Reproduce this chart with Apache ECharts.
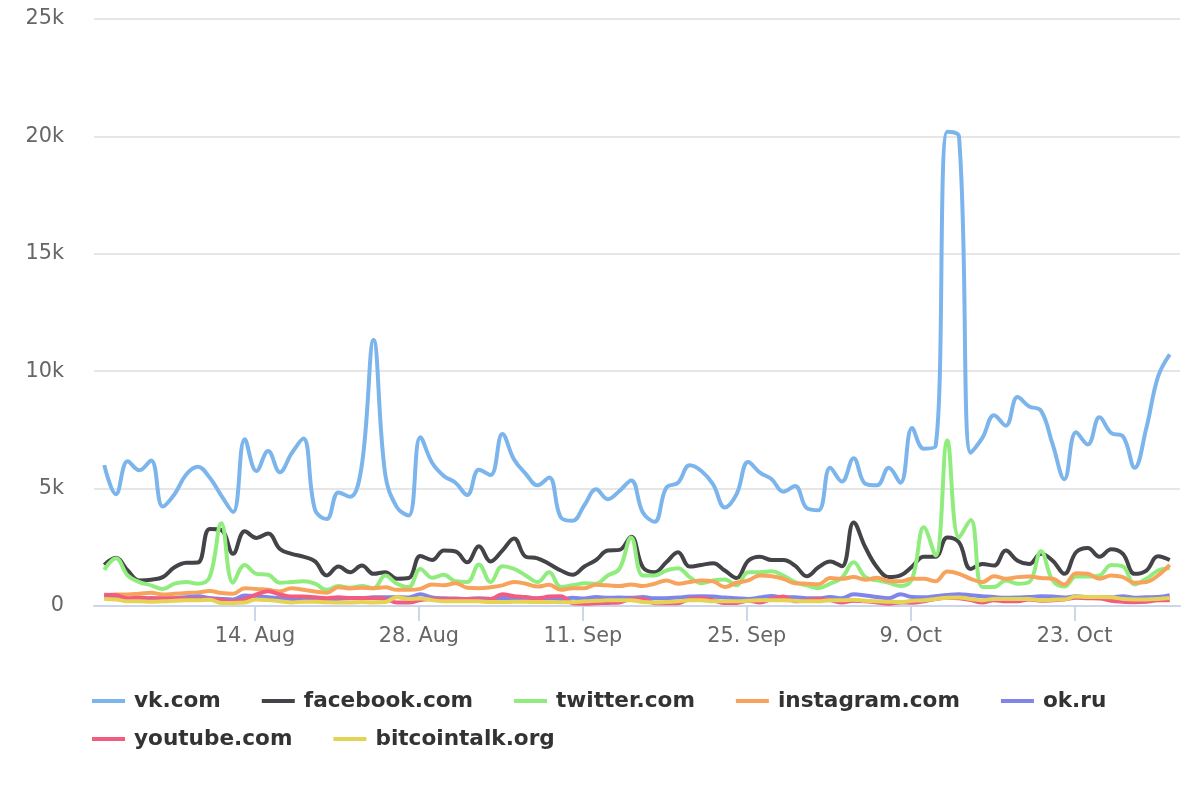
<!DOCTYPE html>
<html>
    <head>
        <meta charset="utf-8">
        <title>Traffic by site</title>
        <script src="https://cdn.jsdelivr.net/npm/echarts@6/dist/echarts.min.js"></script>
        <style>
            html, body { margin: 0; padding: 0; background: #fff; }
        </style>
    </head>
    <body>
        <div id="main" style="width: 1200px;height: 800px;"></div>

        <script>
            const vk = [6000,4760,6170,5780,6200,4240,4760,5600,5930,5470,4700,4000,7100,5750,6600,5700,6500,7130,4100,3700,4830,4650,6000,11330,5600,4200,3850,7190,6100,5540,5250,4730,5800,5580,7330,6240,5630,5140,5470,3770,3630,4290,4970,4550,4900,5350,3980,3590,5040,5250,5990,5750,5180,4200,4760,6130,5680,5400,4870,5110,4170,4080,5890,5300,6290,5210,5140,5890,5250,7580,6700,6800,20200,20000,6530,7160,8120,7680,8900,8500,8320,6880,5400,7400,6880,8040,7370,7230,5890,7580,9770,10720];
            const facebook = [1750,2050,1510,1090,1120,1230,1650,1840,1850,3280,3230,2220,3180,2900,3090,2430,2220,2100,1900,1300,1680,1440,1720,1370,1440,1160,1190,2130,1960,2360,2320,1860,2540,1900,2360,2880,2100,2030,1790,1510,1330,1680,1960,2360,2390,2950,1650,1440,1860,2290,1680,1750,1820,1510,1190,1930,2100,1960,1960,1720,1270,1650,1900,1690,3560,2500,1650,1230,1300,1680,2100,2100,2920,2710,1580,1790,1720,2360,1930,1790,2220,1930,1370,2290,2470,2100,2420,2220,1370,1510,2120,1960];
            const twitter = [1540,2030,1300,1020,880,720,950,1020,950,1230,3520,990,1750,1370,1330,990,1020,1050,950,690,850,780,850,760,1300,950,810,1580,1200,1330,1050,1020,1770,1020,1690,1580,1300,1020,1440,810,880,970,950,1300,1580,2920,1300,1300,1510,1610,1230,970,1090,1130,880,1440,1440,1480,1300,1020,880,760,950,1200,1860,1230,1090,990,850,1160,3350,2150,7050,2920,3660,810,810,1090,950,1020,2330,1090,830,1260,1260,1300,1750,1690,920,1160,1510,1620];
            const instagram = [450,490,490,520,560,490,520,550,580,640,550,520,760,720,690,620,760,690,620,560,800,750,780,760,800,690,690,730,920,880,970,780,760,800,880,1020,950,830,900,690,760,760,900,880,850,920,850,950,1090,950,1020,1090,1050,810,990,1090,1300,1270,1160,970,950,930,1190,1160,1230,1120,1200,1060,1050,1160,1160,1050,1470,1370,1160,1020,1270,1160,1230,1260,1190,1160,920,1400,1370,1160,1300,1230,990,1020,1300,1750];
            const okru = [380,360,280,250,330,300,330,370,420,340,300,280,450,420,370,330,300,320,280,270,300,330,330,370,370,380,360,500,360,330,320,300,330,300,340,330,280,320,330,300,350,320,380,350,360,350,380,330,330,360,400,410,400,360,330,300,360,430,370,370,330,330,380,330,500,450,380,330,500,380,370,420,470,500,460,420,380,350,360,380,420,400,360,420,380,380,370,420,350,370,380,460];
            const youtube = [480,460,330,350,330,330,330,300,300,300,250,200,300,490,630,490,400,400,370,330,370,340,340,330,300,150,150,250,300,300,300,300,300,300,500,420,380,330,400,420,120,100,120,130,150,300,300,120,120,120,300,330,250,130,130,220,150,300,400,200,250,300,250,150,220,200,150,100,150,140,200,300,350,330,250,150,250,200,200,280,220,250,280,350,330,320,220,180,160,180,250,250];
            const bitcointalk = [300,280,200,200,180,200,220,250,250,270,130,130,150,280,250,200,150,180,180,160,150,150,170,150,170,380,300,320,250,200,200,200,200,170,170,180,180,170,170,160,160,200,220,240,250,250,170,150,170,200,240,250,200,200,200,220,250,250,250,220,200,200,250,250,270,220,200,180,170,220,240,300,350,360,300,240,300,300,300,300,240,270,280,400,380,380,370,300,280,280,300,340];

            const seriesNames = ['vk.com', 'facebook.com', 'twitter.com', 'instagram.com', 'ok.ru', 'youtube.com', 'bitcointalk.org'];
            const seriesValues = [vk, facebook, twitter, instagram, okru, youtube, bitcointalk];
            const colors = ['#7cb5ec', '#434348', '#90ed7d', '#f7a35c', '#8085e9', '#f15c80', '#e4d354'];

            const tickDays = ['2018-08-14', '2018-08-28', '2018-09-11', '2018-09-25', '2018-10-09', '2018-10-23'];
            const tickLabels = ['14. Aug', '28. Aug', '11. Sep', '25. Sep', '9. Oct', '23. Oct'];

            const DAY = 86400000;
            const firstPoint = Date.UTC(2018, 7, 1, 3);
            const tickValues = tickDays.map(function (d) { return Date.parse(d + 'T00:00:00Z'); });

            function legendBlock(names, top) {
                return {
                    data: names,
                    left: 92,
                    top: top,
                    padding: 0,
                    icon: 'rect',
                    itemWidth: 33,
                    itemHeight: 4,
                    itemGap: 41,
                    selectedMode: false,
                    textStyle: {
                        fontFamily: 'DejaVu Sans',
                        fontSize: 21.6,
                        fontWeight: 'bold',
                        color: '#333333',
                        padding: [0, 0, 0, 4]
                    }
                };
            }

            const option = {
                animation: false,
                backgroundColor: '#ffffff',
                color: colors,
                legend: [
                    legendBlock(seriesNames.slice(0, 5), 690),
                    legendBlock(seriesNames.slice(5), 728)
                ],
                grid: {
                    left: 94,
                    right: 20,
                    top: 19,
                    bottom: 194
                },
                xAxis: {
                    type: 'value',
                    min: Date.UTC(2018, 6, 31, 6),
                    max: Date.UTC(2018, 10, 1),
                    splitLine: { show: false },
                    axisLine: { lineStyle: { color: '#ccd6eb', width: 2 } },
                    axisTick: {
                        customValues: tickValues,
                        length: 15,
                        lineStyle: { color: '#ccd6eb', width: 2 }
                    },
                    axisLabel: {
                        customValues: tickValues,
                        margin: 20,
                        fontFamily: 'DejaVu Sans',
                        fontSize: 20.8,
                        color: '#666666',
                        formatter: function (value) {
                            return tickLabels[tickValues.indexOf(value)];
                        }
                    }
                },
                yAxis: {
                    type: 'value',
                    min: 0,
                    max: 25000,
                    interval: 5000,
                    axisLine: { show: false },
                    axisTick: { show: false },
                    splitLine: { lineStyle: { color: '#e6e6e6', width: 2 } },
                    axisLabel: {
                        margin: 30,
                        padding: [2, 0, 0, 0],
                        fontFamily: 'DejaVu Sans',
                        fontSize: 20.8,
                        color: '#666666',
                        formatter: function (value) {
                            return value === 0 ? '0' : (value / 1000) + 'k';
                        }
                    }
                },
                series: seriesNames.map(function (name, s) {
                    return {
                        name: name,
                        type: 'line',
                        smooth: 0.4,
                        showSymbol: false,
                        lineStyle: { width: 4, color: colors[s] },
                        data: seriesValues[s].map(function (v, i) {
                            return [firstPoint + i * DAY, v];
                        })
                    };
                })
            };

            const chart = echarts.init(document.getElementById('main'));
            chart.setOption(option);
        </script>
    </body>
</html>
